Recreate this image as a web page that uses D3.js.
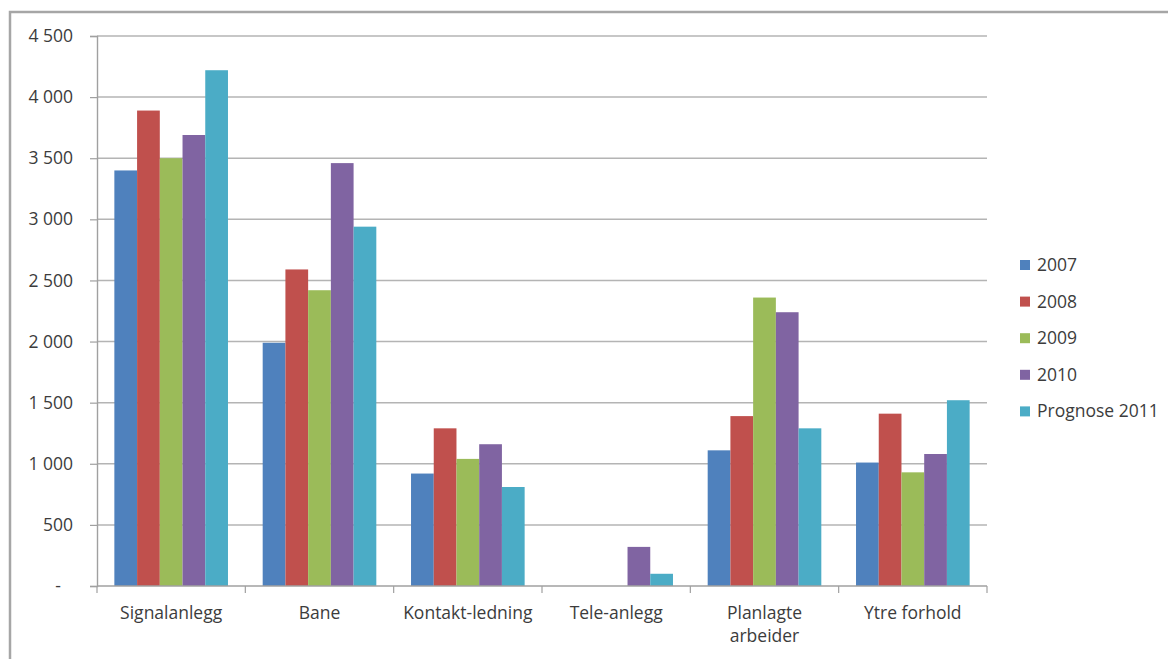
<!DOCTYPE html>
<html>
<head>
<meta charset="utf-8">
<script src="https://cdn.jsdelivr.net/npm/d3@7"></script>
<style>
  html, body { margin: 0; padding: 0; background: #fff; }
  svg { display: block; }
  text { font-family: "Open Sans", Lato, sans-serif; fill: #3c3c3c; }
</style>
</head>
<body>
<svg id="chart" width="1168" height="659"></svg>
<script>
// Categories, series and values
const categories = ["Signalanlegg", "Bane", "Kontakt-ledning", "Tele-anlegg", "Planlagte arbeider", "Ytre forhold"];
const seriesNames = ["2007", "2008", "2009", "2010", "Prognose 2011"];
const v2007 = [3400, 1990, 920, 0, 1110, 1010];
const v2008 = [3890, 2590, 1290, 0, 1390, 1410];
const v2009 = [3500, 2420, 1040, 0, 2360, 930];
const v2010 = [3690, 3460, 1160, 320, 2240, 1080];
const v2011 = [4220, 2940, 810, 100, 1290, 1520];
const yTicks = [0, 500, 1000, 1500, 2000, 2500, 3000, 3500, 4000, 4500];
const colors = ["#4F81BD", "#C0504D", "#9BBB59", "#8064A2", "#4BACC6"];

const seriesValues = [v2007, v2008, v2009, v2010, v2011];
const FONT = "17.5px";

const svg = d3.select("#chart");

// Outer chart frame
svg.append("rect")
  .attr("x", 10).attr("y", 12)
  .attr("width", 1200).attr("height", 700)
  .attr("fill", "none")
  .attr("stroke", "#a6a6a6")
  .attr("stroke-width", 2.5);

const plot = { left: 97, right: 987, top: 36, bottom: 586 };

const x = d3.scaleBand()
  .domain(categories)
  .range([plot.left, plot.right])
  .paddingInner(0).paddingOuter(0);

const catW = x.bandwidth();
const gap = catW * 0.117;
const xs = d3.scaleBand()
  .domain(seriesNames)
  .range([gap, catW - gap])
  .padding(0);

const y = d3.scaleLinear()
  .domain([0, 4500])
  .range([plot.bottom, plot.top]);

// Horizontal gridlines
svg.append("g")
  .selectAll("line")
  .data(yTicks.filter(d => d > 0))
  .join("line")
  .attr("x1", plot.left).attr("x2", plot.right)
  .attr("y1", d => y(d)).attr("y2", d => y(d))
  .attr("stroke", "#b4b4b4")
  .attr("stroke-width", 1.5);

// Bars
const groups = svg.append("g")
  .selectAll("g")
  .data(categories)
  .join("g")
  .attr("transform", d => `translate(${x(d)},0)`);

groups.selectAll("rect")
  .data((c, ci) => seriesNames.map((s, si) => ({ s, si, v: seriesValues[si][ci] })).filter(d => d.v > 0))
  .join("rect")
  .attr("x", d => xs(d.s))
  .attr("width", xs.bandwidth())
  .attr("y", d => y(d.v))
  .attr("height", d => y(0) - y(d.v))
  .attr("fill", d => colors[d.si]);

// Y axis
const fmt = d => d === 0 ? "-" : d3.format(",")(d).replace(",", " ");
const yAxis = svg.append("g")
  .attr("transform", `translate(${plot.left},0)`)
  .call(d3.axisLeft(y).tickValues(yTicks).tickFormat(fmt).tickSize(7).tickPadding(17));
yAxis.select(".domain").attr("stroke", "#a0a0a0").attr("stroke-width", 1.4);
yAxis.selectAll(".tick line").attr("stroke", "#a0a0a0").attr("stroke-width", 1.2);
yAxis.selectAll(".tick text")
  .style("font-family", "'Open Sans', Lato, sans-serif")
  .style("font-size", FONT)
  .attr("fill", "#3c3c3c");
yAxis.selectAll(".tick text").filter(d => d === 0).attr("dx", -12);

// X axis baseline and category ticks
const xAxisG = svg.append("g");
xAxisG.append("line")
  .attr("x1", plot.left).attr("x2", plot.right)
  .attr("y1", plot.bottom).attr("y2", plot.bottom)
  .attr("stroke", "#a0a0a0").attr("stroke-width", 1.4);
const boundaries = categories.map(c => x(c)).concat([plot.right]);
xAxisG.selectAll("line.tk")
  .data(boundaries)
  .join("line")
  .attr("class", "tk")
  .attr("x1", d => d).attr("x2", d => d)
  .attr("y1", plot.bottom).attr("y2", plot.bottom + 7)
  .attr("stroke", "#a0a0a0").attr("stroke-width", 1.2);

// Category labels, long two-word label split over two lines
const labelsG = svg.append("g");
categories.forEach(c => {
  const cx = x(c) + catW / 2;
  const lines = c === "Planlagte arbeider" ? ["Planlagte", "arbeider"] : [c];
  const t = labelsG.append("text")
    .attr("x", cx)
    .attr("y", 619)
    .attr("text-anchor", "middle")
    .style("font-size", FONT);
  lines.forEach((ln, i) => {
    t.append("tspan").attr("x", cx).attr("dy", i === 0 ? 0 : 23).text(ln);
  });
});

// Legend
const legend = svg.append("g").attr("transform", "translate(1020,265)");
seriesNames.forEach((s, i) => {
  const row = legend.append("g").attr("transform", `translate(0,${i * 36.6})`);
  row.append("rect")
    .attr("x", 0).attr("y", -5)
    .attr("width", 10).attr("height", 10)
    .attr("fill", colors[i]);
  row.append("text")
    .attr("x", 17).attr("y", 6)
    .style("font-size", FONT)
    .text(s);
});
</script>
</body>
</html>
